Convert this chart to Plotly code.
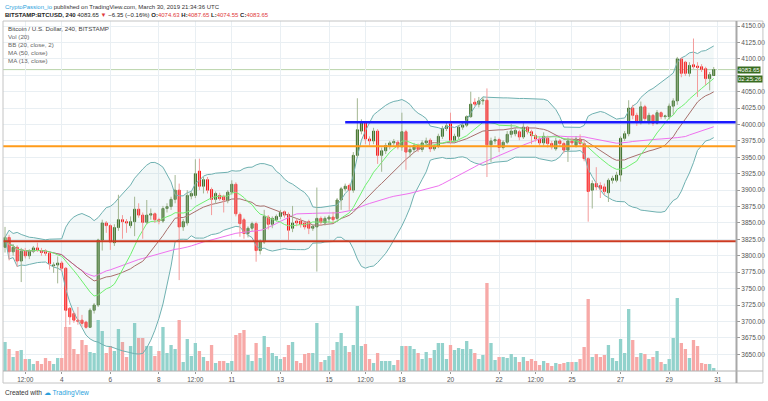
import pandas as pd
import plotly.graph_objects as go

# ---------------- data ----------------
opens = [3813,3828,3806,3813,3792,3808,3800,3807,3812,3808,3806,3804,3785,3786,3789,3781,3720,3712,3702,3702,3699,3691,3717,3725,3824,3850,3846,3820,3843,3855,
         3852,3846,3852,3871,3862,3851,3862,3864,3855,3853,3872,3875,3886,3900,3844,3850,3891,3892,3929,3906,3916,3901,3886,3892,3890,3884,3897,3909,3863,3855,
         3834,3842,3849,3808,3821,3859,3848,3855,3860,3867,3863,3842,3853,3853,3850,3852,3842,3844,3857,3850,3856,3859,3857,3885,3902,3907,3900,3953,3990,4002,
         3978,3975,3990,3953,3960,3968,3972,3973,3966,3989,3958,3962,3968,3962,3972,3976,3963,3967,3982,3994,4001,3976,3982,3996,3999,4012,4034,4031,4036,4037,
         3969,3975,3977,3965,3973,3985,3986,3989,3981,3996,3989,3983,3978,3972,3979,3971,3963,3975,3971,3961,3975,3968,3978,3971,3948,3900,3910,3907,3905,3896,
         3915,3915,3923,3979,3986,4025,4014,4003,4027,4003,4014,4002,4018,4012,4012,4028,4036,4100,4095,4078,4091,4089,4088,4085,4070,4074.63]
highs = [3844,3832,3818,3816,3812,3812,3810,3815,3820,3812,3810,3806,3790,3799,3792,3783,3722,3715,3722,3710,3701,3720,3728,3826,3855,3853,3848,3848,3893,3862,
         3856,3860,3890,3880,3866,3885,3872,3866,3858,3876,3880,3890,3923,3910,3856,3900,3898,3947,3948,3920,3920,3904,3898,3896,3893,3900,3915,3912,3866,3858,
         3845,3852,3852,3825,3870,3862,3860,3863,3870,3869,3866,3876,3856,3858,3852,3855,3848,3904,3860,3860,3862,3867,3888,3905,3910,3910,3958,4040,4008,4004,
         3982,3995,3993,3965,3972,3975,3978,3976,4018,3992,3966,3972,3971,3976,3980,3979,3970,3986,3998,4003,4018,3986,3999,4003,4014,4050,4040,4042,4042,4055,
         3980,3982,3980,3976,3990,4001,3995,3992,4002,3998,3992,3986,3982,3988,3983,3975,3980,3978,3974,3980,3980,3982,3985,3975,3950,3915,3935,3912,3910,3918,
         3922,3928,3982,3990,4037,4030,4018,4035,4030,4018,4016,4022,4020,4015,4032,4040,4103,4102,4097,4095,4131,4095,4092,4088,4080,4087.65]
lows = [3805,3793,3800,3783,3760,3796,3795,3804,3806,3800,3800,3779,3774,3758,3776,3690,3695,3698,3695,3692,3689,3690,3712,3722,3808,3835,3809,3815,3838,3826,
        3835,3842,3830,3858,3826,3848,3855,3850,3848,3850,3866,3870,3880,3763,3838,3846,3886,3888,3900,3895,3895,3862,3880,3884,3866,3880,3893,3860,3829,3826,
        3828,3838,3791,3802,3818,3840,3842,3852,3856,3858,3824,3836,3845,3843,3840,3833,3838,3776,3846,3846,3850,3850,3852,3870,3898,3870,3896,3950,3985,3970,
        3968,3970,3940,3928,3955,3962,3968,3962,3960,3931,3950,3958,3958,3958,3968,3958,3960,3964,3978,3990,3970,3972,3978,3992,3996,4010,4028,4026,4030,3920,
        3943,3970,3958,3962,3970,3980,3982,3976,3978,3985,3970,3974,3968,3968,3965,3962,3960,3966,3956,3943,3968,3965,3968,3944,3852,3872,3900,3888,3893,3882,
        3910,3912,3913,3975,3982,4008,3998,4000,4004,4000,3998,4000,4008,4008,4008,4015,4030,4072,4074,4073,4085,4042,4080,4060,4052,4074.55]
closes = [3828,3806,3813,3792,3807,3800,3807,3812,3808,3805,3804,3788,3786,3789,3781,3717,3707,3702,3700,3697,3691,3717,3725,3824,3850,3846,3821,3843,3855,3852,
          3850,3852,3871,3862,3851,3862,3864,3855,3853,3872,3875,3886,3900,3844,3852,3892,3895,3925,3906,3916,3900,3886,3895,3887,3885,3897,3909,3864,3849,3834,
          3842,3849,3808,3821,3860,3848,3857,3860,3866,3862,3839,3850,3850,3848,3844,3842,3845,3857,3851,3857,3859,3855,3885,3902,3906,3900,3953,3992,4002,3978,
          3975,3990,3953,3960,3968,3972,3974,3966,3989,3958,3962,3968,3962,3972,3975,3963,3967,3982,3994,3998,3976,3982,3996,3999,4012,4031,4031,4036,4037,3969,
          3975,3977,3965,3973,3985,3990,3991,3981,3996,3989,3983,3978,3972,3982,3971,3966,3975,3971,3961,3975,3972,3978,3971,3948,3898,3910,3905,3902,3898,3915,
          3918,3923,3979,3986,4025,4014,4003,4027,4009,4014,4002,4018,4012,4013,4028,4036,4100,4078,4078,4090,4088,4087,4084,4070,4076,4083.65]
volumes = [29,22,14,20,21,12,12,7,10,7,13,10,7,13,13,44,44,22,17,31,26,19,18,51,40,18,25,20,42,29,
           14,25,48,33,33,25,25,15,20,44,18,26,22,51,9,32,15,28,20,14,10,26,8,10,10,8,10,36,38,41,
           16,10,28,13,35,24,18,15,12,14,26,29,10,8,17,18,18,48,9,11,15,21,29,38,25,19,26,65,25,27,
           12,8,18,10,10,10,6,11,25,25,25,22,18,12,19,13,21,28,28,12,26,21,23,22,30,22,18,12,16,88,
           28,11,14,14,13,17,14,9,14,10,12,10,6,10,8,5,8,7,8,9,9,9,12,24,72,14,17,14,16,26,
           13,10,32,18,62,31,14,18,17,12,14,20,9,7,12,33,73,28,22,13,31,25,8,7,7,3]
first_bar = "2019-03-01 16:00"
bar_freq = "4h"

tick_dates = ["2019-03-02 12:00","2019-03-04","2019-03-06","2019-03-08","2019-03-09 12:00","2019-03-11",
              "2019-03-13","2019-03-15","2019-03-16 12:00","2019-03-18","2019-03-20","2019-03-22",
              "2019-03-23 12:00","2019-03-25","2019-03-27","2019-03-29","2019-03-31"]
tick_text = ["12:00","4","6","8","12:00","11","13","15","12:00","18","20","22","12:00","25","27","29","31"]
price_ticks = [3650,3675,3700,3725,3750,3775,3800,3825,3850,3875,3900,3925,3950,3975,
               4000,4025,4050,4075,4100,4125,4150]
# the 4075 label is covered by the last-price boxes in the reference
price_tick_text = ["" if v == 4075 else "%.2f" % v for v in price_ticks]

hline_levels = [4003.5, 3967, 3822]
hline_starts = ["2019-03-15 16:00", "2019-03-01 14:00", "2019-03-01 14:00"]
hline_colors = ["#1a1aff", "#ff9b1a", "#cc3b22"]

x_range = ["2019-03-01 14:00", "2019-03-31 18:00"]
y_range = [3624.5, 4157.7]

# ---------------- derived ----------------
times = pd.date_range(first_bar, periods=len(closes), freq=bar_freq)
s = pd.Series(closes, dtype=float)
ma13 = s.rolling(13, min_periods=1).mean()
basis = s.rolling(20, min_periods=1).mean()
sd = s.rolling(20, min_periods=1).std(ddof=0)
upper = basis + 2 * sd
lower = basis - 2 * sd
ma50 = s.rolling(50, min_periods=1).mean()
up = [c >= o for o, c in zip(opens, closes)]

W, H = 768, 401
PL, PR, PT, PB = 3, 738, 21, 371


def xp(px):
    return (px - PL) / (PR - PL)


def yp(py):
    return (PB - py) / (PB - PT)


fig = go.Figure()

# volume (main hidden y axis)
fig.add_trace(go.Bar(x=times, y=volumes, yaxis="y",
                     marker=dict(color=["#92d2cc" if u else "#f7a9a7" for u in up], line=dict(width=0)),
                     hoverinfo="skip", showlegend=False))

# Bollinger band
fig.add_trace(go.Scatter(x=times, y=upper, yaxis="y2", mode="lines",
                         line=dict(color="#6fb1b1", width=1), showlegend=False, hoverinfo="skip"))
fig.add_trace(go.Scatter(x=times, y=lower, yaxis="y2", mode="lines", fill="tonexty",
                         fillcolor="rgba(110,180,180,0.09)",
                         line=dict(color="#6fb1b1", width=1), showlegend=False, hoverinfo="skip"))
fig.add_trace(go.Scatter(x=times, y=ma50, yaxis="y2", mode="lines",
                         line=dict(color="#ef72ef", width=1), showlegend=False, hoverinfo="skip"))
fig.add_trace(go.Scatter(x=times, y=basis, yaxis="y2", mode="lines",
                         line=dict(color="#a8706c", width=1), showlegend=False, hoverinfo="skip"))
fig.add_trace(go.Scatter(x=times, y=ma13, yaxis="y2", mode="lines",
                         line=dict(color="#6ff06f", width=1), showlegend=False, hoverinfo="skip"))

# wicks
for flag, col in ((True, "#a3b692"), (False, "#f39b9b")):
    wx, wy = [], []
    for t, h, l, u in zip(times, highs, lows, up):
        if u == flag:
            wx += [t, t, None]
            wy += [l, h, None]
    fig.add_trace(go.Scatter(x=wx, y=wy, yaxis="y2", mode="lines",
                             line=dict(color=col, width=1), showlegend=False, hoverinfo="skip"))

# bodies
fig.add_trace(go.Candlestick(x=times, open=opens, close=closes,
                             high=[max(o, c) for o, c in zip(opens, closes)],
                             low=[min(o, c) for o, c in zip(opens, closes)],
                             yaxis="y2",
                             increasing=dict(line=dict(color="#356a1e", width=1), fillcolor="#356a1e"),
                             decreasing=dict(line=dict(color="#ff1010", width=1), fillcolor="#ff1010"),
                             showlegend=False, hoverinfo="skip"))

shapes = []
# last price line
shapes.append(dict(type="line", xref="paper", yref="y2", x0=0, x1=1, y0=closes[-1], y1=closes[-1],
                   line=dict(color="#b9d4a9", width=1), layer="below"))
for lvl, st, col in zip(hline_levels, hline_starts, hline_colors):
    shapes.append(dict(type="line", xref="x", yref="y2", x0=st, x1=x_range[1], y0=lvl, y1=lvl,
                       line=dict(color=col, width=2.5 if col == "#1a1aff" else 2)))
# frames
shapes.append(dict(type="rect", xref="paper", yref="paper", x0=xp(3), x1=xp(765), y0=yp(383), y1=yp(21),
                   line=dict(color="#c4c4c4", width=1)))
shapes.append(dict(type="line", xref="paper", yref="paper", x0=xp(738.5), x1=xp(738.5), y0=yp(383), y1=yp(21),
                   line=dict(color="#a8a8a8", width=2)))
shapes.append(dict(type="line", xref="paper", yref="paper", x0=xp(3), x1=xp(765), y0=yp(371), y1=yp(371),
                   line=dict(color="#b0b0b0", width=1)))

FONT = "Liberation Sans"
ann = []
ann.append(dict(xref="paper", yref="paper", x=xp(3), y=yp(6.5), xanchor="left", yanchor="middle", showarrow=False,
                text='<span style="color:#2b9fdc">CryptoPassion_io</span> published on TradingView.com, March 30, 2019 21:34:36 UTC',
                font=dict(family=FONT, size=6.0, color="#333333")))
red = "#e0383a"
ann.append(dict(xref="paper", yref="paper", x=xp(3), y=yp(15), xanchor="left", yanchor="middle", showarrow=False,
                text=('<b>BITSTAMP:BTCUSD, 240</b> 4083.65 <span style="color:%s">▼</span> −6.35 (−0.16%%) '
                      '<b>O:</b><span style="color:%s">4074.63</span> <b>H:</b><span style="color:%s">4087.65</span> '
                      '<b>L:</b><span style="color:%s">4074.55</span> <b>C:</b><span style="color:%s">4083.65</span>')
                     % (red, red, red, red, red),
                font=dict(family=FONT, size=6.0, color="#222222")))
legend_lines = ["Bitcoin / U.S. Dollar, 240, BITSTAMP", "Vol (20)", "BB (20, close, 2)", "MA (50, close)", "MA (13, close)"]
for k, txt in enumerate(legend_lines):
    ann.append(dict(xref="paper", yref="paper", x=xp(6.5), y=yp(28.7 + 8 * k), xanchor="left", yanchor="middle",
                    showarrow=False, text=txt,
                    font=dict(family=FONT, size=6.2, color="#444444" if k == 0 else "#666666")))
ann.append(dict(xref="paper", yref="y2", x=xp(739.5), y=closes[-1], xanchor="left", yanchor="middle", showarrow=False,
                text="4083.65", bgcolor="#386c20", borderpad=0, font=dict(family=FONT, size=6.0, color="white")))
ann.append(dict(xref="paper", yref="y2", x=xp(739.5), y=closes[-1], yshift=-9, xanchor="left", yanchor="middle",
                showarrow=False, text="02:25:26", bgcolor="#386c20", borderpad=0,
                font=dict(family=FONT, size=6.0, color="white")))
ann.append(dict(xref="paper", yref="paper", x=xp(3), y=yp(393), xanchor="left", yanchor="middle", showarrow=False,
                text='Created with <span style="color:#2a9fdc">☁ TradingView</span>',
                font=dict(family=FONT, size=6.6, color="#333333")))

fig.update_layout(
    width=W, height=H, margin=dict(l=PL, r=W - PR, t=PT, b=H - PB),
    paper_bgcolor="white", plot_bgcolor="white",
    showlegend=False, bargap=0.18,
    xaxis=dict(type="date", range=x_range, tickvals=tick_dates, ticktext=tick_text,
               showgrid=True, gridcolor="#e9eff3", gridwidth=1, zeroline=False, showline=False,
               ticks="outside", ticklen=2, tickcolor="#999999",
               tickfont=dict(family=FONT, size=6.5, color="#555555"), rangeslider=dict(visible=False)),
    yaxis=dict(range=[0, 350], visible=False, showgrid=False, fixedrange=True),
    yaxis2=dict(overlaying="y", side="right", range=y_range, tickvals=price_ticks, ticktext=price_tick_text,
                showgrid=True, gridcolor="#e9eff3", gridwidth=1, zeroline=False, showline=False,
                ticks="outside", ticklen=3, tickcolor="#999999",
                tickfont=dict(family=FONT, size=6.5, color="#555555")),
    shapes=shapes, annotations=ann,
)

fig.write_html("out.html")
